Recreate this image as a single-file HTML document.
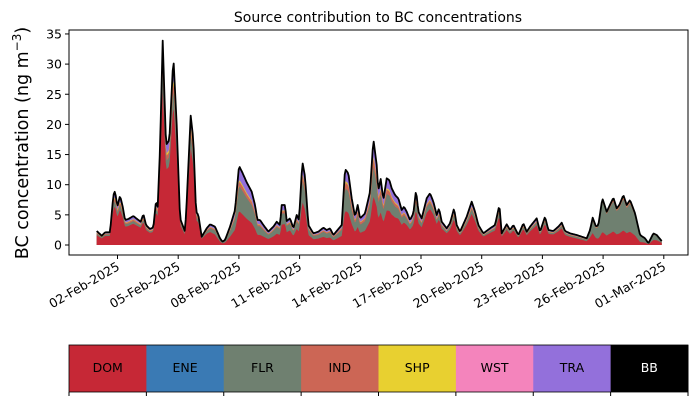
<!DOCTYPE html>
<html><head><meta charset="utf-8"><style>
body{margin:0;background:#fff;width:698px;height:402px;overflow:hidden}
svg{font-family:"DejaVu Sans","Liberation Sans",sans-serif}
</style></head><body>
<svg id="s" width="698" height="402" xmlns="http://www.w3.org/2000/svg">
<text x="378" y="22" font-size="14" text-anchor="middle">Source contribution to BC concentrations</text>
<g id="plot"></g>
<rect x="69" y="30" width="619" height="225" fill="none" stroke="#000" stroke-width="1"/>
<text transform="translate(28,143) rotate(-90)" font-size="17.5" text-anchor="middle">BC concentration (ng m<tspan dy="-7" font-size="12">−3</tspan><tspan dy="7">)</tspan></text>
<g id="ax" font-size="12.5"></g>
<g id="cb" font-size="12.5"></g>
</svg>
<script>
const NS="http://www.w3.org/2000/svg";
function el(t,a,p,txt){const e=document.createElementNS(NS,t);for(const k in a)e.setAttribute(k,a[k]);if(txt!==undefined)e.textContent=txt;p.appendChild(e);return e;}
const z1=(a)=>a.map(([x,y])=>[60+x/3,25+y/3]);
const z2=(a)=>a.map(([x,y])=>[360+x/3,25+y/3]);
const top1=z1([[110,618],[125,632],[135,622],[150,622],[160,510],[165,498],[172,545],[180,512],[188,545],[195,585],[205,582],[220,573],[235,585],[242,590],[250,567],[258,600],[270,612],[280,607],[288,527],[293,545],[300,370],[308,47],[318,360],[328,345],[340,95],[350,300],[360,580],[375,620],[380,530],[392,272],[400,345],[408,560],[415,570],[425,635],[440,610],[450,598],[465,605],[480,640],[487,650],[495,645],[510,605],[525,555],[537,422],[548,445],[560,472],[575,500],[585,540],[592,585],[600,585],[610,600],[625,620],[640,605],[650,590],[660,600],[665,540],[675,540],[680,588],[690,580],[700,610],[710,570],[717,585],[727,410],[735,455],[745,600],[760,625],[775,620],[790,608],[800,615],[810,610],[820,630],[835,612],[845,600],[855,432],[865,445],[875,520],[885,575],[893,540],[900,580],[915,565],[930,500],[940,342],[950,420]]);
const top2=z2([[0,585],[10,575],[25,555],[35,440],[40,342],[48,410],[55,495],[62,462],[70,525],[80,460],[88,465],[95,490],[105,510],[115,520],[125,555],[132,545],[140,560],[150,585],[160,565],[168,495],[175,560],[185,580],[200,520],[210,505],[220,530],[230,570],[237,550],[245,590],[260,610],[270,595],[282,550],[290,600],[300,620],[320,575],[335,530],[345,560],[355,600],[370,625],[390,610],[405,600],[418,540],[425,625],[440,598],[450,615],[460,600],[475,630],[490,595],[500,620],[510,605],[530,580],[540,620],[555,575],[565,615],[580,618],[595,605],[605,593],[615,618],[630,625],[650,630],[665,635],[680,640],[690,615],[698,578],[708,605],[715,600],[727,520],[740,560],[760,518],[770,550],[778,540],[790,510],[800,540],[810,525],[825,565],[840,630],[855,640],[865,655],[880,625],[890,630],[905,648]]);
const T=top1.concat(top2);
function interp(P,x){if(x<=P[0][0])return P[0][1];for(let i=1;i<P.length;i++){if(x<=P[i][0]){const a=P[i-1],b=P[i];return a[1]+(b[1]-a[1])*(x-a[0])/(b[0]-a[0]);}}return P[P.length-1][1];}
const F=[[97,[0.7,0.12,0.05,0.02]],[150,[0.75,0.08,0.05,0.02]],[200,[0.75,0.1,0.05,0.02]],[225,[0.45,0.3,0.06,0.02]],[260,[0.4,0.35,0.06,0.02]],[290,[0.55,0.25,0.05,0.02]],[330,[0.45,0.3,0.08,0.02]],[370,[0.45,0.3,0.08,0.02]],[395,[0.55,0.22,0.06,0.02]],[430,[0.7,0.12,0.04,0.02]],[560,[0.75,0.1,0.03,0.02]],[585,[0.6,0.2,0.04,0.02]],[600,[0.28,0.65,0.03,0.01]],[640,[0.3,0.62,0.03,0.01]],[660,[0.5,0.4,0.03,0.01]]];
function frac(x){if(x<=F[0][0])return F[0][1];for(let i=1;i<F.length;i++){if(x<=F[i][0]){const a=F[i-1],b=F[i],t=(x-a[0])/(b[0]-a[0]);return a[1].map((v,k)=>v+(b[1][k]-v)*t);}}return F[F.length-1][1];}
const base=245,x0=T[0][0],x1=T[T.length-1][0];
const xs=[];for(let x=x0;x<=x1;x+=1)xs.push(x);xs.push(x1);
const L={top:[],red:[],gray:[],ind:[],shp:[]};
xs.forEach(x=>{const t=interp(T,x),h=base-t,f=frac(x);let c=f[0];const r=base-h*c;c+=f[1];const g=base-h*c;c+=f[2];const i=base-h*c;c+=f[3];const s=base-h*c;
L.top.push([x,t]);L.red.push([x,r]);L.gray.push([x,g]);L.ind.push([x,i]);L.shp.push([x,s]);});
const g=document.getElementById('plot');
const pts=a=>a.map(p=>p[0].toFixed(1)+","+p[1].toFixed(1)).join("L");
function band(hi,c){el('path',{d:"M"+x0+","+base+"L"+pts(hi)+"L"+x1+","+base+"Z",fill:c},g);}
band(L.top,"#9370db");band(L.shp,"#e8d030");band(L.ind,"#cc6655");band(L.gray,"#6f8070");band(L.red,"#c62836");
el('path',{d:"M"+pts(L.top),fill:"none",stroke:"#000","stroke-width":1.8,"stroke-linejoin":"round"},g);
const ax=document.getElementById('ax');
for(let v=0;v<=35;v+=5){const y=245-v*6.03;el('line',{x1:65,x2:69,y1:y,y2:y,stroke:"#000"},ax);el('text',{x:62,y:y+4.5,"text-anchor":"end"},ax,v);}
const xl=["02-Feb-2025","05-Feb-2025","08-Feb-2025","11-Feb-2025","14-Feb-2025","17-Feb-2025","20-Feb-2025","23-Feb-2025","26-Feb-2025","01-Mar-2025"];
xl.forEach((l,i)=>{const x=117.5+i*60.7;el('line',{x1:x,x2:x,y1:255,y2:259,stroke:"#000"},ax);el('text',{x:0,y:0,"text-anchor":"end",transform:`translate(${x+3},${269}) rotate(-30)`},ax,l);});
const cb=document.getElementById('cb');
const cols=[["DOM","#c62836"],["ENE","#3a7ab4"],["FLR","#6f8070"],["IND","#cc6655"],["SHP","#e8d030"],["WST","#f484bc"],["TRA","#9370db"],["BB","#000"]];
const w=619/8;
cols.forEach(([n,c],i)=>{const x=69+i*w;el('rect',{x:x,y:345,width:w+0.5,height:47,fill:c},cb);el('text',{x:x+w/2,y:372,"text-anchor":"middle",fill:n=="BB"?"#fff":"#000"},cb,n);});
for(let i=0;i<=8;i++){const x=69+i*w;el('line',{x1:x,x2:x,y1:392,y2:396,stroke:"#000"},cb);}
el('rect',{x:69,y:345,width:619,height:47,fill:"none",stroke:"#000","stroke-width":0.8},cb);
</script>
</body></html>
